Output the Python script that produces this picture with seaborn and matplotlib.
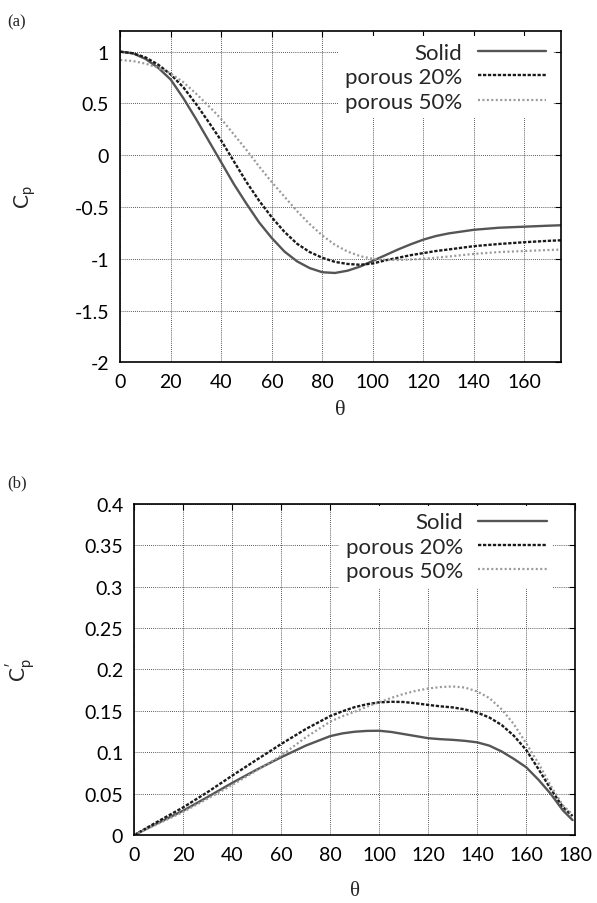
import numpy as np
import pandas as pd
import matplotlib
matplotlib.use("Agg")
import matplotlib.pyplot as plt
from matplotlib.ticker import FuncFormatter
import seaborn as sns

# ---------------------------------------------------------------------------
# data
# ---------------------------------------------------------------------------
names = ["Solid", "porous 20%", "porous 50%"]

# (a) mean pressure coefficient
theta_a = [0, 5, 10, 15, 20, 25, 30, 35, 40, 45, 50, 55, 60, 65, 70, 75, 80,
           85, 90, 95, 100, 105, 110, 115, 120, 125, 130, 140, 150, 160, 170,
           176]
solid_a = [1.00, 0.985, 0.93, 0.845, 0.73, 0.55, 0.35, 0.14, -0.07, -0.28,
           -0.47, -0.65, -0.80, -0.93, -1.025, -1.09, -1.13, -1.137, -1.115,
           -1.075, -1.02, -0.965, -0.91, -0.86, -0.815, -0.78, -0.755, -0.72,
           -0.70, -0.69, -0.68, -0.675]
porous20_a = [1.00, 0.985, 0.945, 0.875, 0.78, 0.655, 0.495, 0.32, 0.14,
              -0.06, -0.26, -0.44, -0.60, -0.74, -0.855, -0.935, -0.99,
              -1.03, -1.05, -1.058, -1.045, -1.015, -0.99, -0.965, -0.945,
              -0.925, -0.91, -0.878, -0.857, -0.84, -0.826, -0.82]
porous50_a = [0.92, 0.91, 0.885, 0.845, 0.79, 0.705, 0.595, 0.475, 0.35,
              0.20, 0.05, -0.11, -0.26, -0.40, -0.54, -0.665, -0.775, -0.865,
              -0.93, -0.975, -1.00, -1.01, -1.012, -1.007, -1.0, -0.99,
              -0.978, -0.953, -0.935, -0.925, -0.915, -0.91]

# (b) fluctuating pressure coefficient
theta_b = [0, 10, 20, 30, 40, 50, 60, 70, 80, 85, 90, 95, 100, 105, 110, 115,
           120, 125, 130, 135, 140, 145, 150, 155, 160, 165, 170, 175, 179]
solid_b = [0, 0.015, 0.0295, 0.046, 0.063, 0.079, 0.094, 0.108, 0.1195,
           0.1228, 0.1248, 0.1258, 0.126, 0.1245, 0.122, 0.1195, 0.117,
           0.1158, 0.115, 0.1138, 0.112, 0.108, 0.101, 0.092, 0.082, 0.067,
           0.050, 0.030, 0.018]
porous20_b = [0, 0.017, 0.0335, 0.052, 0.0718, 0.091, 0.110, 0.128, 0.1437,
              0.1495, 0.1545, 0.158, 0.1603, 0.161, 0.1607, 0.1592, 0.1572,
              0.1555, 0.1542, 0.1518, 0.148, 0.142, 0.133, 0.120, 0.103,
              0.080, 0.056, 0.034, 0.023]
porous50_b = [0, 0.014, 0.028, 0.044, 0.0605, 0.078, 0.096, 0.118, 0.137,
              0.1435, 0.149, 0.155, 0.1605, 0.1657, 0.1705, 0.1742, 0.177,
              0.1788, 0.1795, 0.1782, 0.1735, 0.1655, 0.152, 0.134, 0.111,
              0.087, 0.060, 0.036, 0.025]

# ---------------------------------------------------------------------------
# style
# ---------------------------------------------------------------------------
sns.set_style("white")
plt.rcParams["font.family"] = ["Lato", "DejaVu Sans"]
plt.rcParams["axes.unicode_minus"] = False
plt.rcParams["mathtext.fontset"] = "custom"
plt.rcParams["mathtext.rm"] = "Lato"
plt.rcParams["mathtext.it"] = "Lato"

line_styles = {
    "Solid": dict(color="#555555", lw=1.7, linestyle="-"),
    "porous 20%": dict(color="#1a1a1a", lw=1.7, linestyle=(0, (1.4, 0.7))),
    "porous 50%": dict(color="#9a9a9a", lw=1.6, linestyle=(0, (0.9, 1.1))),
}

fig = plt.figure(figsize=(5.97, 9.04), dpi=100)
ax_a = fig.add_axes([0.2015, 0.5981, 0.7382, 0.3665])
ax_b = fig.add_axes([0.2250, 0.0752, 0.7382, 0.3662])


def draw(ax, theta, series):
    for name, vals in zip(names, series):
        df = pd.DataFrame({"theta": theta, "cp": vals})
        sns.lineplot(data=df, x="theta", y="cp", ax=ax, label=name,
                     **line_styles[name])
    ax.grid(True, linestyle=(0, (1, 1.5)), color="#222222", lw=0.6)
    ax.tick_params(direction="in", length=4, width=0.8, top=True, right=True,
                   labelsize=14, pad=8, colors="black")
    for sp in ax.spines.values():
        sp.set_linewidth(1.2)
        sp.set_color("black")
    ax.yaxis.set_major_formatter(FuncFormatter(lambda v, p: "%g" % round(v, 3)))
    leg = ax.legend(loc="upper right", markerfirst=False, fontsize=16,
                    frameon=True, facecolor="white", edgecolor="none",
                    framealpha=1, fancybox=False, handlelength=3.1,
                    handletextpad=0.68, labelspacing=0.2, borderpad=0.3,
                    borderaxespad=0.0)
    for t in leg.get_texts():
        t.set_ha("right")
    leg._legend_box.align = "right"
    return leg


leg_a = draw(ax_a, theta_a, [solid_a, porous20_a, porous50_a])
ax_a.set_xlim(0, 174.5)
ax_a.set_ylim(-2, 1.2)
ax_a.set_xticks(np.arange(0, 161, 20))
ax_a.set_yticks(np.arange(-2, 1.01, 0.5))
leg_a.set_bbox_to_anchor((0.982, 0.985), transform=ax_a.transAxes)
ax_a.set_xlabel("θ", family="Liberation Serif", fontsize=16)
ax_a.set_ylabel(r"$\mathrm{C_p}$", fontsize=15)
ax_a.xaxis.set_label_coords(0.5, -0.115)
ax_a.yaxis.set_label_coords(-0.187, 0.5)

leg_b = draw(ax_b, theta_b, [solid_b, porous20_b, porous50_b])
ax_b.set_xlim(0, 180)
ax_b.set_ylim(0, 0.4)
ax_b.set_xticks(np.arange(0, 181, 20))
ax_b.set_yticks(np.arange(0, 0.401, 0.05))
leg_b.set_bbox_to_anchor((0.951, 0.995), transform=ax_b.transAxes)
ax_b.set_xlabel("θ", family="Liberation Serif", fontsize=15)
ax_b.set_ylabel(r"$\mathrm{C_p^{\prime}}$", fontsize=15)
ax_b.xaxis.set_label_coords(0.5, -0.14)
ax_b.yaxis.set_label_coords(-0.219, 0.5)

fig.text(0.012, 1 - 22 / 904, "(a)", family="Liberation Serif", fontsize=12,
         va="center")
fig.text(0.012, 1 - 483 / 904, "(b)", family="Liberation Serif", fontsize=12,
         va="center")

fig.savefig("out.png", dpi=100)
